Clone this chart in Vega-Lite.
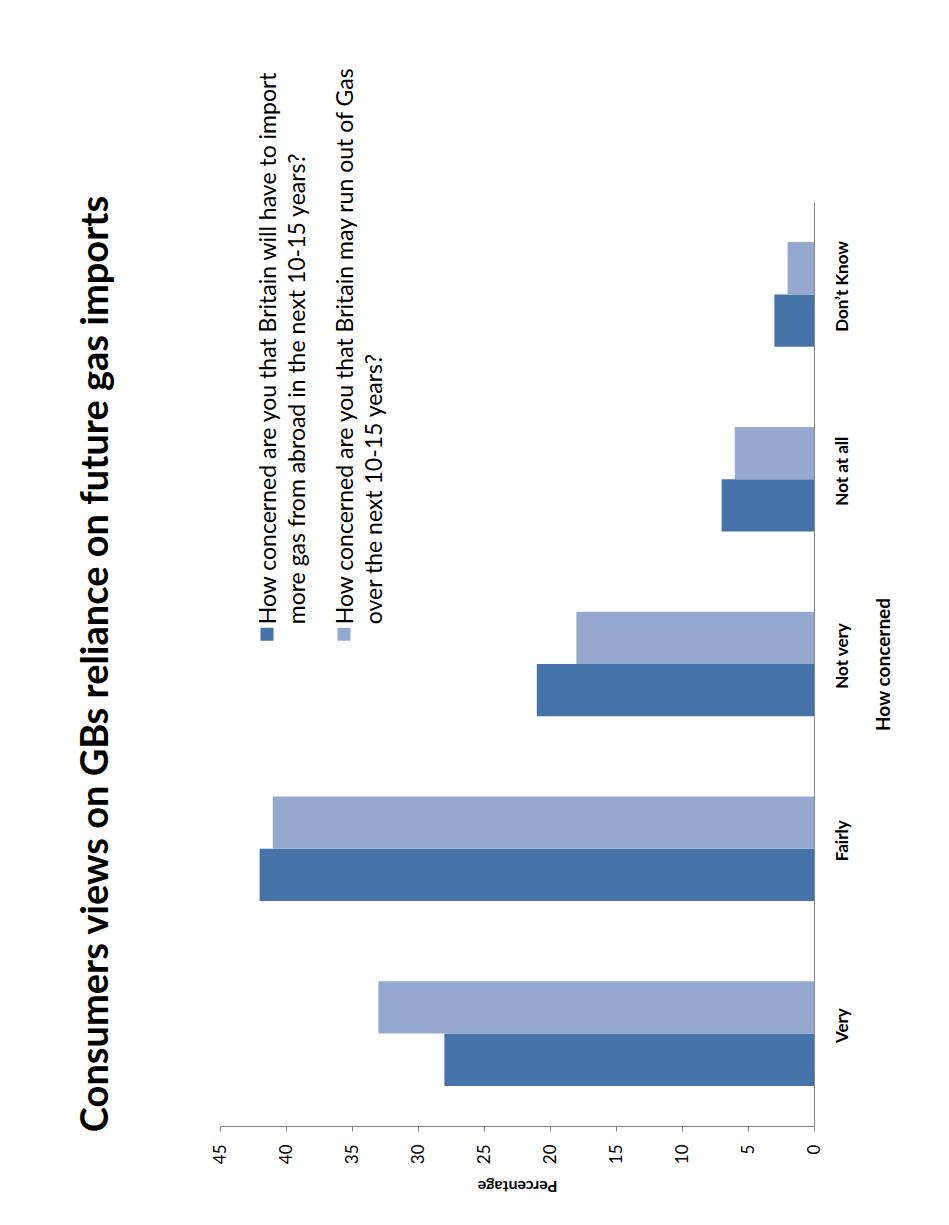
{
  "$schema": "https://vega.github.io/schema/vega-lite/v6.json",
  "width": 594,
  "height": 924,
  "autosize": {"type": "none"},
  "padding": {"left": 220, "top": 202, "right": 135, "bottom": 99},
  "background": "white",
  "config": {"view": {"stroke": null}, "font": "Lato"},
  "title": {
    "text": "Consumers views on GBs reliance on future gas imports",
    "orient": "left",
    "anchor": "middle",
    "font": "Lato",
    "fontSize": 38,
    "fontWeight": "bold",
    "color": "black",
    "offset": 95
  },
  "data": {
    "values": [
      {"concern": "Very", "question": "How concerned are you that Britain will have to import more gas from abroad in the next 10-15 years?", "pct": 28},
      {"concern": "Very", "question": "How concerned are you that Britain may run out of Gas over the next 10-15 years?", "pct": 33},
      {"concern": "Fairly", "question": "How concerned are you that Britain will have to import more gas from abroad in the next 10-15 years?", "pct": 42},
      {"concern": "Fairly", "question": "How concerned are you that Britain may run out of Gas over the next 10-15 years?", "pct": 41},
      {"concern": "Not very", "question": "How concerned are you that Britain will have to import more gas from abroad in the next 10-15 years?", "pct": 21},
      {"concern": "Not very", "question": "How concerned are you that Britain may run out of Gas over the next 10-15 years?", "pct": 18},
      {"concern": "Not at all", "question": "How concerned are you that Britain will have to import more gas from abroad in the next 10-15 years?", "pct": 7},
      {"concern": "Not at all", "question": "How concerned are you that Britain may run out of Gas over the next 10-15 years?", "pct": 6},
      {"concern": "Don’t Know", "question": "How concerned are you that Britain will have to import more gas from abroad in the next 10-15 years?", "pct": 3},
      {"concern": "Don’t Know", "question": "How concerned are you that Britain may run out of Gas over the next 10-15 years?", "pct": 2}
    ]
  },
  "mark": {"type": "bar"},
  "encoding": {
    "y": {
      "field": "concern",
      "type": "nominal",
      "sort": ["Don’t Know", "Not at all", "Not very", "Fairly", "Very"],
      "scale": {"paddingInner": 0.434, "paddingOuter": 0.217},
      "axis": {
        "orient": "right",
        "title": "How concerned",
        "titleAngle": 270,
        "titleFont": "Lato",
        "titleFontSize": 19,
        "titleFontWeight": "bold",
        "titleColor": "black",
        "titlePadding": 24,
        "titleBaseline": "top",
        "labelAngle": 270,
        "labelAlign": "center",
        "labelBaseline": "top",
        "labelFont": "Lato",
        "labelFontSize": 17,
        "labelFontWeight": "bold",
        "labelColor": "black",
        "labelPadding": 20,
        "labelOffset": -8,
        "ticks": false,
        "domainColor": "#868686",
        "domainWidth": 1
      }
    },
    "yOffset": {
      "field": "question",
      "type": "nominal",
      "sort": [
        "How concerned are you that Britain may run out of Gas over the next 10-15 years?",
        "How concerned are you that Britain will have to import more gas from abroad in the next 10-15 years?"
      ],
      "scale": {"paddingInner": 0, "paddingOuter": 0}
    },
    "x": {
      "field": "pct",
      "type": "quantitative",
      "scale": {"domain": [0, 45], "reverse": true, "nice": false},
      "axis": {
        "title": "Percentage",
        "titleAngle": 180,
        "titleBaseline": "bottom",
        "titleFont": "Lato",
        "titleFontSize": 16,
        "titleFontWeight": "bold",
        "titleColor": "black",
        "titlePadding": 14,
        "values": [0, 5, 10, 15, 20, 25, 30, 35, 40, 45],
        "labelAngle": 270,
        "labelFont": "Lato",
        "labelFontSize": 17,
        "labelColor": "black",
        "labelPadding": 13,
        "grid": false,
        "tickSize": 5,
        "tickColor": "#868686",
        "domainColor": "#868686"
      }
    },
    "color": {
      "field": "question",
      "type": "nominal",
      "sort": [
        "How concerned are you that Britain will have to import more gas from abroad in the next 10-15 years?",
        "How concerned are you that Britain may run out of Gas over the next 10-15 years?"
      ],
      "scale": {"range": ["#4572A7", "#95A9D0"]},
      "legend": {
        "title": null,
        "orient": "none",
        "legendX": 40,
        "legendY": 425,
        "direction": "horizontal",
        "columns": 2,
        "symbolType": "square",
        "symbolSize": 169,
        "symbolStrokeWidth": 0,
        "symbolOpacity": 1,
        "labelFont": "Lato",
        "labelFontSize": 23,
        "labelColor": "black",
        "labelLimit": 2000,
        "columnPadding": 24,
        "labelExpr": "indexof(datum.label, 'import') >= 0 ? ['How concerned are you that Britain will have to import', 'more gas from abroad in the next 10-15 years?'] : ['How concerned are you that Britain may run out of Gas', 'over the next 10-15 years?']",
        "encoding": {
          "labels": {
            "angle": {"value": -90},
            "align": {"value": "left"},
            "baseline": {"value": "top"},
            "lineHeight": {"value": 29},
            "x": {"value": -2},
            "y": {"value": -3}
          },
          "symbols": {
            "x": {"value": 7},
            "y": {"value": 7}
          }
        }
      }
    }
  }
}
